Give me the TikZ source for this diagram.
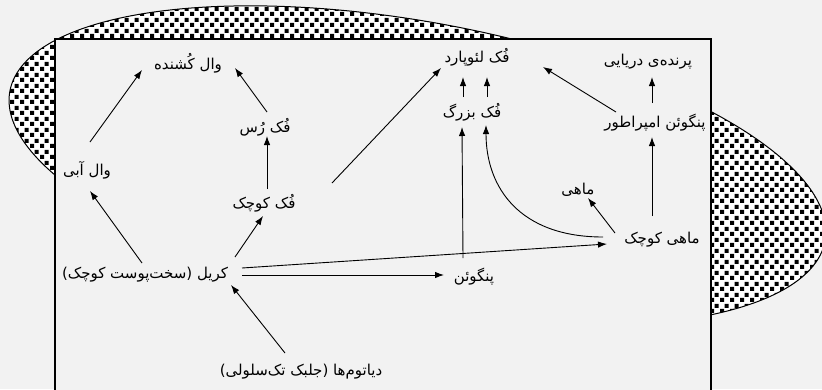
\documentclass[tikz,border=0pt]{standalone}
\usepackage{fontspec}
\usetikzlibrary{arrows.meta,patterns,calc}
\TeXXeTstate=1
\newfontfamily\fafont[Script=Arabic]{DejaVu Sans}
\newcommand{\fa}[1]{\fafont\beginR #1\endR}
\definecolor{bggray}{HTML}{F2F2F2}
% square dots for the ice
\pgfdeclarepatternformonly{blockdots}{\pgfpointorigin}{\pgfqpoint{10pt}{11pt}}{\pgfqpoint{10pt}{11pt}}{%
  \pgfpathrectangle{\pgfpointorigin}{\pgfqpoint{4.5pt}{4.5pt}}%
  \pgfpathrectangle{\pgfqpoint{5pt}{5.5pt}}{\pgfqpoint{4.5pt}{4.5pt}}%
  \pgfusepath{fill}}
\tikzset{
  lbl/.style={inner sep=2pt, font=\fontsize{15}{17}\selectfont},
  arr/.style={-{Latex[length=9pt,width=6.5pt]}, line width=0.9pt},
}

\begin{document}
\begin{tikzpicture}[x=1pt,y=1pt]
  \useasboundingbox (0,0) rectangle (822,-389);
  \fill[bggray] (0,0) rectangle (822,-389);
  \begin{scope}
    \clip (0,0) rectangle (822,-389);
    % ice (tilted ellipse)
    \path[fill=white, postaction={pattern=blockdots}, draw, line width=1pt]
      plot[domain=0:360, samples=120, smooth cycle]
      ({417.5+414.5*cos(\x)*cos(10.4)-144*sin(\x)*sin(10.4)},
       {-166-414.5*cos(\x)*sin(10.4)-144*sin(\x)*cos(10.4)});
    % sea (box)
    \filldraw[fill=bggray, line width=1.4pt] (55,-39) rectangle (711,-420);
  \end{scope}

  % animals
  \node[lbl] (orca) at (188,-63) {\fa{وال کُشنده}};
  \node[lbl] (crabeater) at (265,-127) {\fa{فُک رُس}};
  \node[lbl] (blue) at (87,-170) {\fa{وال آبی}};
  \node[lbl] (smallseal) at (264,-203) {\fa{فُک کوچک}};
  \node[lbl] (krill) at (145,-275) {\fa{کریل (سخت‌پوست کوچک)}};
  \node[lbl] (diatom) at (301,-372) {\fa{دیاتوم‌ها (جلبک تک‌سلولی)}};
  \node[lbl] (leopard) at (477,-57) {\fa{فُک لئوپارد}};
  \node[lbl] (bigseal) at (472,-112) {\fa{فُک بزرگ}};
  \node[lbl] (seabird) at (648,-62) {\fa{پرنده‌ی دریایی}};
  \node[lbl] (emperor) at (655,-123) {\fa{پنگوئن امپراطور}};
  \node[lbl] (fish) at (578,-190) {\fa{ماهی}};
  \node[lbl] (smallfish) at (662,-240) {\fa{ماهی کوچک}};
  \node[lbl] (penguin) at (474,-277) {\fa{پنگوئن}};

  % who eats whom
  \draw[arr] ($(blue)+(3,28)$) -- ($(orca)+(-46,-7)$);
  \draw[arr] ($(crabeater)+(2,15)$) -- ($(orca)+(47,-5)$);
  \draw[arr] ($(smallseal)+(3,14)$) -- ($(crabeater)+(2,-9)$);
  \draw[arr] ($(krill)+(-3,12)$) -- ($(blue)+(3,-21)$);
  \draw[arr] ($(krill)+(90,18)$) -- ($(smallseal)+(-1,-13)$);
  \draw[arr] ($(diatom)+(-16,19)$) -- ($(krill)+(86,-10)$);
  \draw[arr] ($(krill)+(97,0)$) -- ($(penguin)+(-30,2)$);
  \draw[arr] ($(krill)+(97,7)$) -- ($(smallfish)+(-55,-4)$);
  \draw[arr] ($(smallseal)+(68,20)$) -- ($(leopard)+(-36,-11)$);
  \draw[arr] ($(bigseal)+(-9,15)$) -- ($(leopard)+(-14,-20)$);
  \draw[arr] ($(bigseal)+(15,15)$) -- ($(leopard)+(10,-20)$);
  \draw[arr] ($(penguin)+(-11,19)$) -- ($(bigseal)+(-10,-15)$);
  \draw[arr] ($(smallfish)+(-59,3)$) .. controls +(-83,0) and +(0,-63) .. ($(bigseal)+(14,-13)$);
  \draw[arr] ($(smallfish)+(-47,7)$) -- ($(fish)+(10,-8)$);
  \draw[arr] ($(smallfish)+(-10,24)$) -- ($(emperor)+(-3,-14)$);
  \draw[arr] ($(emperor)+(-3,20)$) -- ($(seabird)+(4,-15)$);
  \draw[arr] ($(emperor)+(-39,11)$) -- ($(leopard)+(66,-10)$);
\end{tikzpicture}
\end{document}
